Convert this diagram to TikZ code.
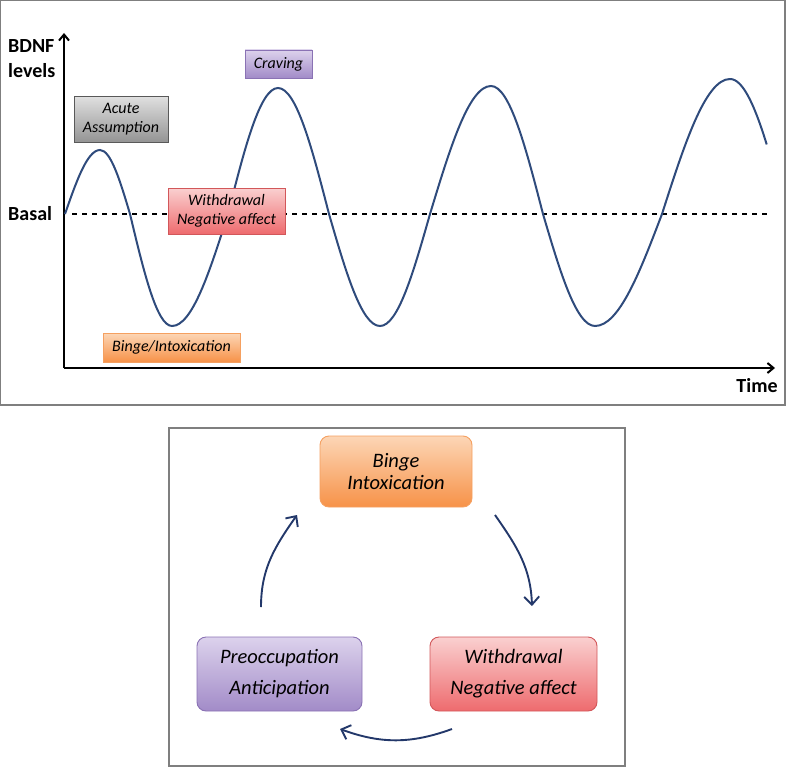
\documentclass[tikz,border=0pt]{standalone}
\usepackage{fontspec}
\setmainfont{Carlito}
\usetikzlibrary{arrows.meta}
\definecolor{curveblue}{HTML}{2F4B7C}
\definecolor{arrowblue}{HTML}{23386A}
\definecolor{framegray}{HTML}{7F7F7F}
\definecolor{purpletop}{HTML}{DCD2EC}
\definecolor{purplebot}{HTML}{A28BC8}
\definecolor{purpleborder}{HTML}{8A72B4}
\definecolor{redtop}{HTML}{FAD0D0}
\definecolor{redbot}{HTML}{EE6B6E}
\definecolor{redborder}{HTML}{D2575A}
\definecolor{orangetop}{HTML}{FCD6B6}
\definecolor{orangebot}{HTML}{F79248}
\definecolor{orangeborder}{HTML}{F5A060}
\tikzset{
  panel/.style={draw=framegray, line width=1.2pt},
  axis/.style={line width=2.2pt, -{Straight Barb[length=6pt,width=10pt,line width=2pt]}},
  lbl/.style={font=\fontsize{20}{25}\selectfont\bfseries, align=left, inner sep=0pt},
  tag/.style={draw, line width=0.9pt, align=center, inner sep=0pt,
    font=\fontsize{16}{18.5}\selectfont\itshape},
  bigtag/.style={draw, line width=0.9pt, rounded corners=9pt, align=center, inner sep=0pt},
  graytag/.style={tag, draw=black!65, top color=black!12, bottom color=black!42},
  purplefill/.style={draw=purpleborder, top color=purpletop, bottom color=purplebot},
  redfill/.style={draw=redborder, top color=redtop, bottom color=redbot},
  orangefill/.style={draw=orangeborder, top color=orangetop, bottom color=orangebot},
  cyc/.style={draw=arrowblue, line width=1.9pt, -{Straight Barb[length=8pt,width=15pt,line width=1.9pt]}},
}
\begin{document}
\begin{tikzpicture}[x=1pt,y=-1pt]
\useasboundingbox (0,0) rectangle (787,768);
% panels
\draw[panel] (0.6,0.6) rectangle (785,405);
\draw[panel] (169,428) rectangle (625,766);

% axes
\coordinate (O) at (64,368);
\coordinate (Ytop) at (64,33);
\coordinate (Xend) at (775,368);
\draw[axis] (O) -- (Ytop);
\draw[axis] (O) -- (Xend);
\coordinate (B0) at (72,214);
\coordinate (B1) at (767,214);
\draw[line width=1.5pt, dash pattern=on 5pt off 5pt] (B0) -- (B1);

\node[lbl, anchor=west] (bdnf) at (8,59) {BDNF\\levels};
\node[lbl, anchor=west] (basal) at (8,214) {Basal};
\node[lbl] (time) at (757,386) {Time};

% curve
\draw[curveblue, line width=2pt]
 (65,214) sin (100,150) cos (130,214) sin (172,326) cos (228,214)
 sin (278,88) cos (329,214) sin (380,326) cos (430,214)
 sin (491,86) cos (543,214) sin (595,326) cos (662,214) sin (730,79);
\draw[curveblue, line width=2pt] plot[domain=0:59, samples=25, smooth, variable=\t]
 ({730+\t*56/90},{214-135*cos(\t)});

% top tags
\node[graytag, minimum width=94pt, minimum height=46pt] (acute) at (121,119) {Acute\\Assumption};
\node[tag, purplefill, minimum width=67pt, minimum height=28pt] (craving) at (278.5,64) {Craving};
\node[tag, redfill, minimum width=117pt, minimum height=46pt] (withd) at (226.5,211) {Withdrawal\\Negative affect};
\node[tag, orangefill, minimum width=137pt, minimum height=29pt] (binge) at (171.5,347.5) {Binge/Intoxication};

% cycle boxes
\node[bigtag, orangefill, minimum width=152pt, minimum height=71pt,
  font=\fontsize{20.5}{22}\selectfont\itshape] (cbinge) at (396,471.5) {Binge\\Intoxication};
\node[bigtag, redfill, minimum width=167pt, minimum height=74pt,
  font=\fontsize{20.5}{31}\selectfont\itshape] (cwith) at (513.5,674) {Withdrawal\\Negative affect};
\node[bigtag, purplefill, minimum width=165pt, minimum height=74pt,
  font=\fontsize{20.5}{31}\selectfont\itshape] (cpre) at (279.5,674) {Preoccupation\\Anticipation};

% cycle arrows
\coordinate (a1s) at (261,607);
\coordinate (a1e) at (297,515);
\coordinate (a2s) at (495,515);
\coordinate (a2e) at (532,606);
\coordinate (a3s) at (452,729);
\coordinate (a3e) at (340,729);
\draw[cyc] (a1s) to[out=90, in=-125] (a1e);
\draw[cyc] (a2s) to[out=-55, in=92] (a2e);
\draw[cyc] (a3s) to[out=200, in=-20] (a3e);
\end{tikzpicture}
\end{document}
